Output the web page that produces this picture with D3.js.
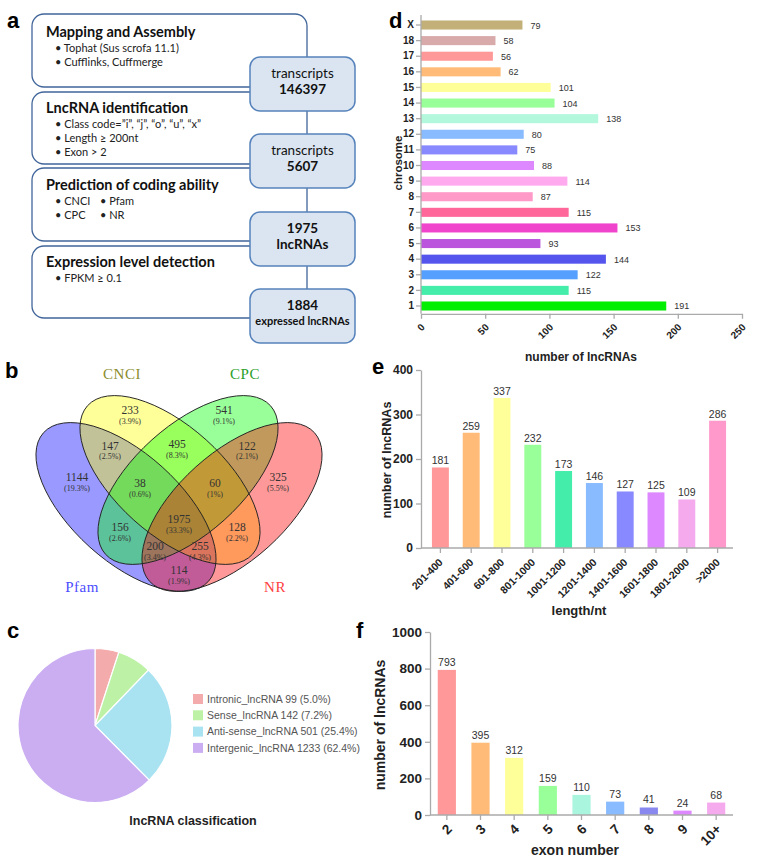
<!DOCTYPE html>
<html><head><meta charset="utf-8">
<script src="https://cdn.jsdelivr.net/npm/d3@7"></script>
<style>body{margin:0;background:#fff}</style>
</head><body>
<svg id="fig" width="759" height="864"></svg>
<script>
// ---------- DATA ----------
// a: pipeline
const flowSteps = ["Mapping and Assembly","LncRNA identification","Prediction of coding ability","Expression level detection"];
const flowBullets = [
  [["• Tophat (Sus scrofa 11.1)"],["• Cufflinks, Cuffmerge"]],
  [["• Class code=”i”, “j”, “o”, “u”, “x”"],["• Length ≥ 200nt"],["• Exon > 2"]],
  [["• CNCI","• Pfam"],["• CPC","• NR"]],
  [["• FPKM ≥ 0.1"]]
];
const flowResultTop = ["transcripts","transcripts","1975","1884"];
const flowResultBottom = ["146397","5607","lncRNAs","expressed lncRNAs"];

// b: venn
const vennSets = ["Pfam","CNCI","CPC","NR"];
const vennSetColors = ["#0000ff","#ffff00","#00ff00","#ff0000"];
const vennLabelColors = ["#4d4dff","#8c8c2c","#2aa02a","#ff4040"];
const vennCounts = [1144,233,541,325,147,495,122,114,38,60,156,128,200,255,1975];
const vennPercents = ["19.3%","3.9%","9.1%","5.5%","2.5%","8.3%","2.1%","1.9%","0.6%","1%","2.6%","2.2%","3.4%","4.3%","33.3%"];

// c: pie
const classNames = ["Intronic_lncRNA","Sense_lncRNA","Anti-sense_lncRNA","Intergenic_lncRNA"];
const classCounts = [99,142,501,1233];
const classPercents = ["5.0%","7.2%","25.4%","62.4%"];
const classColors = ["#f4abab","#bdf2a6","#a9e3f2","#cbaef2"];

// d: chromosomes
const chromosomes = ["1","2","3","4","5","6","7","8","9","10","11","12","13","14","15","16","17","18","X"];
const chromCounts = [191,115,122,144,93,153,115,87,114,88,75,80,138,104,101,62,56,58,79];
const chromColors = ["#00ee00","#44eeaa","#55a0ff","#5555ee","#bb55dd","#f044cc","#ff6699","#ff99c8","#ffaaee","#dd88ff","#8888ff","#88bbff","#b3f7dd","#99ff99","#ffff99","#ffbb77","#ff9999","#d8aaaa","#c2b078"];
const chromTicks = [0,50,100,150,200,250];

// e: length
const lengthBins = ["201-400","401-600","601-800","801-1000","1001-1200","1201-1400","1401-1600","1601-1800","1801-2000",">2000"];
const lengthCounts = [181,259,337,232,173,146,127,125,109,286];
const lengthColors = ["#ff9999","#ffbb77","#ffff99","#99ff99","#44eeaa","#88bbff","#8888ff","#dd88ff","#f5aaee","#ff99cc"];
const lengthTicks = [0,100,200,300,400];

// f: exon number
const exonBins = ["2","3","4","5","6","7","8","9","10+"];
const exonCounts = [793,395,312,159,110,73,41,24,68];
const exonColors = ["#ff9999","#ffbb77","#ffff99","#99ff99","#aaf5dd","#88bbff","#8888ee","#dd88ff","#f5aaee"];
const exonTicks = [0,200,400,600,800,1000];

// ---------- LAYOUT ----------
const svg = d3.select("#fig");
const SANS = "'Liberation Sans', Arial, sans-serif";
const CAL = "Lato, 'Open Sans', sans-serif";
const SERIF = "'Liberation Serif', 'Times New Roman', serif";

// panel letters
[["a",7,28],["b",5,378],["c",7,638],["d",389,28],["e",372,374],["f",356,638]].forEach(([t,x,y])=>{
  svg.append("text").attr("x",x).attr("y",y).text(t)
    .style("font-family",SANS).style("font-weight","bold").style("font-size","22px").attr("fill","#000");
});

// ---------- a ----------
(function(){
  const g = svg.append("g");
  const wTop = [14,92,168,246], wH = [73,72,73,72];
  const bTop = [57,134,212,289];
  flowSteps.forEach((s,i)=>{
    g.append("rect").attr("x",32).attr("y",wTop[i]).attr("width",275).attr("height",wH[i])
      .attr("rx",12).attr("fill","#fff").attr("stroke","#41659a").attr("stroke-width",1.3);
  });
  flowSteps.forEach((s,i)=>{
    g.append("rect").attr("x",250).attr("y",bTop[i]).attr("width",105).attr("height",54)
      .attr("rx",10).attr("fill","#dbe5f1").attr("stroke","#5582bb").attr("stroke-width",1.5);
  });
  const titleY = [37,113,190,267];
  flowSteps.forEach((s,i)=>{
    g.append("text").attr("x",46).attr("y",titleY[i]).text(s)
      .style("font-family",CAL).style("font-weight","bold").style("font-size","14.5px").attr("fill","#111");
    flowBullets[i].forEach((row,j)=>{
      row.forEach((t,k)=>{
        g.append("text").attr("x",55 + k*45).attr("y",titleY[i]+15+j*14).text(t)
          .style("font-family",CAL).style("font-size","11px").attr("fill","#222");
      });
    });
  });
  flowResultTop.forEach((t,i)=>{
    const bold = i>=2;
    g.append("text").attr("x",302.5).attr("y",bTop[i]+21).attr("text-anchor","middle").text(t)
      .style("font-family",CAL).style("font-weight",bold?"bold":"normal").style("font-size","13.5px").attr("fill","#111");
    g.append("text").attr("x",302.5).attr("y",bTop[i]+(i==3?36:37)).attr("text-anchor","middle").text(flowResultBottom[i])
      .style("font-family",CAL).style("font-weight","bold").style("font-size",i==3?"11px":"13.5px").attr("fill","#111");
  });
})();

// ---------- b ----------
(function(){
  const g = svg.append("g");
  const ell = [{cx:126,cy:507,r:42},{cx:170,cy:480,r:42},{cx:188,cy:480,r:-42},{cx:232,cy:507,r:-42}];
  const A=111,B=54;
  ell.forEach((e,i)=>{
    g.append("ellipse").attr("cx",e.cx).attr("cy",e.cy).attr("rx",A).attr("ry",B)
      .attr("transform",`rotate(${e.r},${e.cx},${e.cy})`)
      .attr("fill",vennSetColors[i]).attr("fill-opacity",0.4);
  });
  ell.forEach((e,i)=>{
    g.append("ellipse").attr("cx",e.cx).attr("cy",e.cy).attr("rx",A).attr("ry",B)
      .attr("transform",`rotate(${e.r},${e.cx},${e.cy})`)
      .attr("fill","none").attr("stroke","#222").attr("stroke-width",0.9);
  });
  const labelPos = [[77,478],[130,411],[224,411],[278,478],[110,446.5],[177,445],[247,446.5],[179,571],[140,484],[215,484],[120,528],[237,528],[155,547],[200,547],[179,520]];
  vennCounts.forEach((c,i)=>{
    const [x,y] = labelPos[i];
    g.append("text").attr("x",x).attr("y",y+3).attr("text-anchor","middle").text(c)
      .style("font-family",SERIF).style("font-size","11.5px").attr("fill","#333");
    g.append("text").attr("x",x).attr("y",y+12.5).attr("text-anchor","middle").text("("+vennPercents[i]+")")
      .style("font-family",SERIF).style("font-size","8px").attr("fill","#333");
  });
  const setPos = [[82,592],[122,379],[245,379],[275,592]];
  vennSets.forEach((s,i)=>{
    g.append("text").attr("x",setPos[i][0]).attr("y",setPos[i][1]).attr("text-anchor","middle").text(s)
      .style("font-family",SERIF).style("font-size","15px").style("letter-spacing","0.5px").attr("fill",vennLabelColors[i]);
  });
})();

// ---------- c ----------
(function(){
  const g = svg.append("g").attr("transform","translate(95,725.5)");
  const pie = d3.pie().sort(null).value(d=>d)(classCounts);
  const arc = d3.arc().innerRadius(0).outerRadius(77);
  g.selectAll("path").data(pie).join("path").attr("d",arc)
    .attr("fill",(d,i)=>classColors[i]).attr("stroke","#fff").attr("stroke-width",1.2);
  const lg = svg.append("g");
  classNames.forEach((n,i)=>{
    const y = 699 + i*16.3;
    lg.append("rect").attr("x",193).attr("y",y-5).attr("width",10).attr("height",10).attr("fill",classColors[i]);
    lg.append("text").attr("x",207).attr("y",y+3.8).text(`${n} ${classCounts[i]} (${classPercents[i]})`)
      .style("font-family",SANS).style("font-size","10.5px").attr("fill","#555");
  });
  svg.append("text").attr("x",193).attr("y",825).attr("text-anchor","middle").text("lncRNA classification")
    .style("font-family",SANS).style("font-weight","bold").style("font-size","12.5px").attr("fill","#222");
})();

function styleAxis(g, fs){
  g.select(".domain").attr("stroke","#aaa").attr("stroke-width",1.3);
  g.selectAll(".tick line").attr("stroke","#aaa").attr("stroke-width",1.3);
  g.selectAll(".tick text").style("font-family",SANS).style("font-weight","bold").style("font-size",fs).attr("fill","#222");
}

// ---------- d ----------
(function(){
  const x = d3.scaleLinear().domain([0,250]).range([421,742]);
  const y = d3.scaleBand().domain(chromosomes.slice().reverse()).range([17.2,313.8]).paddingInner(0.42).paddingOuter(0.21);
  const g = svg.append("g");
  g.selectAll("rect").data(chromosomes).join("rect")
    .attr("x",x(0)).attr("y",d=>y(d)).attr("height",y.bandwidth())
    .attr("width",(d,i)=>x(chromCounts[i])-x(0)).attr("fill",(d,i)=>chromColors[i]);
  g.selectAll("text.v").data(chromosomes).join("text").attr("class","v")
    .attr("x",(d,i)=>x(chromCounts[i])+8).attr("y",d=>y(d)+y.bandwidth()/2+3.5)
    .text((d,i)=>chromCounts[i]).style("font-family",SANS).style("font-size","9px").attr("fill","#333");
  const ya = svg.append("g").attr("transform","translate(421,0)").call(d3.axisLeft(y).tickSize(5).tickSizeOuter(0).tickPadding(2));
  styleAxis(ya,"10px");
  ya.select(".domain").attr("d","M0,15V313.8");
  const xa = svg.append("g").attr("transform","translate(0,313.8)").call(d3.axisBottom(x).tickValues(chromTicks).tickSize(5).tickSizeOuter(0));
  styleAxis(xa,"10px");
  xa.selectAll(".tick text").attr("y",0).attr("dy",0).attr("text-anchor","end").attr("transform","translate(4,14) rotate(-45)");
  svg.append("text").attr("transform","translate(402,163) rotate(-90)").attr("text-anchor","middle").text("chrosome")
    .style("font-family",SANS).style("font-weight","bold").style("font-size","11.5px").attr("fill","#222");
  svg.append("text").attr("x",581).attr("y",361).attr("text-anchor","middle").text("number of lncRNAs")
    .style("font-family",SANS).style("font-weight","bold").style("font-size","12px").attr("fill","#222");
})();

// ---------- e ----------
(function(){
  const x = d3.scaleBand().domain(lengthBins).range([425,733]).paddingInner(0.45).paddingOuter(0.225);
  const y = d3.scaleLinear().domain([0,400]).range([548,370]);
  const g = svg.append("g");
  g.selectAll("rect").data(lengthBins).join("rect")
    .attr("x",d=>x(d)).attr("width",x.bandwidth())
    .attr("y",(d,i)=>y(lengthCounts[i])).attr("height",(d,i)=>y(0)-y(lengthCounts[i]))
    .attr("fill",(d,i)=>lengthColors[i]);
  g.selectAll("text.v").data(lengthBins).join("text").attr("class","v")
    .attr("x",d=>x(d)+x.bandwidth()/2).attr("y",(d,i)=>y(lengthCounts[i])-3).attr("text-anchor","middle")
    .text((d,i)=>lengthCounts[i]).style("font-family",SANS).style("font-size","10.5px").attr("fill","#333");
  const ya = svg.append("g").attr("transform","translate(421,0)").call(d3.axisLeft(y).tickValues(lengthTicks).tickFormat(d3.format("d")).tickSize(5).tickSizeOuter(0));
  styleAxis(ya,"12px");
  const xa = svg.append("g").attr("transform","translate(0,548)").call(d3.axisBottom(x).tickSize(5).tickSizeOuter(0));
  styleAxis(xa,"10.5px");
  xa.select(".domain").attr("d","M421,0H733");
  xa.selectAll(".tick text").attr("y",0).attr("dy",0).attr("text-anchor","end").attr("transform","translate(3,15) rotate(-45)");
  svg.append("text").attr("transform","translate(391,460) rotate(-90)").attr("text-anchor","middle").text("number of lncRNAs")
    .style("font-family",SANS).style("font-weight","bold").style("font-size","12.5px").attr("fill","#222");
  svg.append("text").attr("x",579).attr("y",615).attr("text-anchor","middle").text("length/nt")
    .style("font-family",SANS).style("font-weight","bold").style("font-size","13px").attr("fill","#222");
})();

// ---------- f ----------
(function(){
  const x = d3.scaleBand().domain(exonBins).range([430,733]).paddingInner(0.46).paddingOuter(0.23);
  const y = d3.scaleLinear().domain([0,1000]).range([815,632]);
  const g = svg.append("g");
  g.selectAll("rect").data(exonBins).join("rect")
    .attr("x",d=>x(d)).attr("width",x.bandwidth())
    .attr("y",(d,i)=>y(exonCounts[i])).attr("height",(d,i)=>y(0)-y(exonCounts[i]))
    .attr("fill",(d,i)=>exonColors[i]);
  g.selectAll("text.v").data(exonBins).join("text").attr("class","v")
    .attr("x",d=>x(d)+x.bandwidth()/2).attr("y",(d,i)=>y(exonCounts[i])-4).attr("text-anchor","middle")
    .text((d,i)=>exonCounts[i]).style("font-family",SANS).style("font-size","10.5px").attr("fill","#333");
  const ya = svg.append("g").attr("transform","translate(430,0)").call(d3.axisLeft(y).tickValues(exonTicks).tickFormat(d3.format("d")).tickSize(5).tickSizeOuter(0));
  styleAxis(ya,"13.5px");
  const xa = svg.append("g").attr("transform","translate(0,815)").call(d3.axisBottom(x).tickSize(5).tickSizeOuter(0));
  styleAxis(xa,"13.5px");
  xa.select(".domain").attr("d","M430,0H733");
  xa.selectAll(".tick text").attr("y",0).attr("dy",0).attr("text-anchor","end").attr("transform","translate(6,15) rotate(-45)");
  svg.append("text").attr("transform","translate(385,725) rotate(-90)").attr("text-anchor","middle").text("number of lncRNAs")
    .style("font-family",SANS).style("font-weight","bold").style("font-size","14px").attr("fill","#222");
  svg.append("text").attr("x",575).attr("y",855).attr("text-anchor","middle").text("exon number")
    .style("font-family",SANS).style("font-weight","bold").style("font-size","14px").attr("fill","#222");
})();
</script>
</body></html>
